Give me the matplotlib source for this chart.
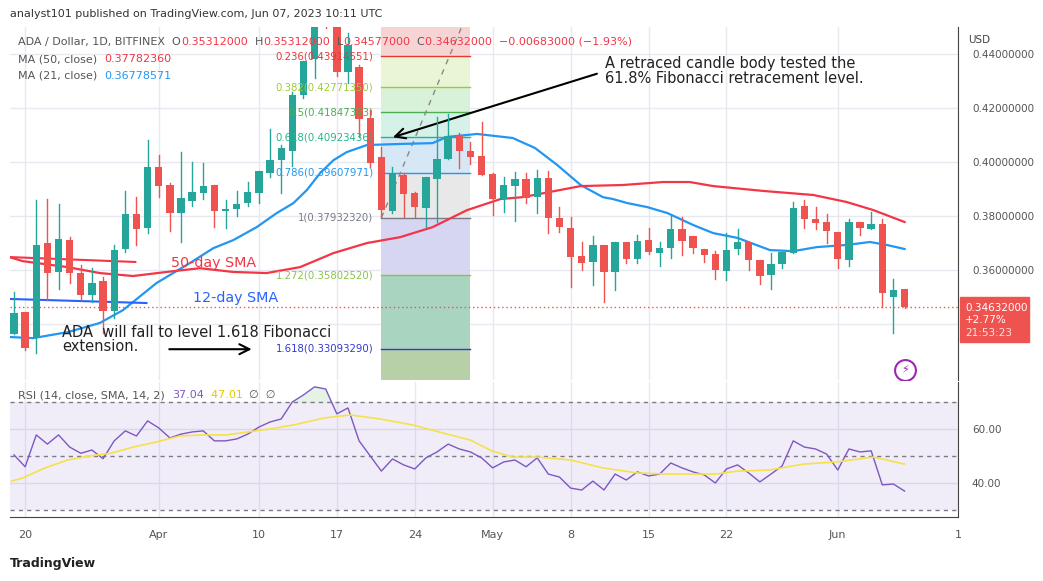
import numpy as np
import matplotlib
matplotlib.use("Agg")
import matplotlib.pyplot as plt
from matplotlib.patches import Rectangle

# daily candles, Mar 19 .. Jun 7 2023 (index 0 = Mar 19)
opens = [.3363, .3444, .3348, .3700, .3593, .3711, .3589, .3507, .3559, .3448,
         .3678, .3807, .3756, .3981, .3915, .3811, .3856, .3885, .3915, .3819,
         .3826, .3848, .3885, .3959, .4007, .4041, .4248, .4381, .4550, .4510,
         .4333, .4352, .4163, .4019, .3819, .3952, .3885, .3830, .3937, .4011,
         .4096, .4041, .4022, .3956, .3863, .3911, .3937, .3870, .3941, .3793,
         .3756, .3652, .3630, .3693, .3593, .3704, .3641, .3711, .3663, .3681,
         .3752, .3726, .3678, .3659, .3596, .3678, .3704, .3637, .3581, .3622,
         .3663, .3837, .3789, .3778, .3741, .3637, .3778, .3752, .3770, .3500,
         .3531]
highs = [.3519, .3444, .3859, .3863, .3844, .3722, .3619, .3607, .3574, .3693,
         .3893, .3870, .4081, .4026, .3922, .4037, .4000, .3996, .3915, .3859,
         .3893, .3926, .3967, .4122, .4063, .4259, .4374, .4550, .4600, .4540,
         .4478, .4360, .4193, .4056, .3981, .3959, .3889, .3944, .4167, .4178,
         .4107, .4074, .4148, .3960, .3944, .3963, .3959, .3970, .3967, .3833,
         .3796, .3704, .3726, .3693, .3704, .3704, .3730, .3756, .3704, .3804,
         .3796, .3726, .3678, .3670, .3737, .3752, .3704, .3637, .3663, .3667,
         .3852, .3859, .3833, .3807, .3741, .3789, .3778, .3815, .3789, .3567,
         .3531]
lows = [.3363, .3304, .3293, .3489, .3530, .3552, .3489, .3481, .3367, .3422,
        .3667, .3693, .3737, .3870, .3744, .3704, .3837, .3863, .3759, .3756,
        .3800, .3837, .3848, .3944, .3885, .3985, .4237, .4311, .4495, .4320,
        .4293, .4093, .3981, .3796, .3811, .3796, .3796, .3759, .3778, .4011,
        .3978, .3993, .3952, .3804, .3815, .3781, .3848, .3811, .3737, .3741,
        .3537, .3600, .3544, .3481, .3526, .3626, .3626, .3659, .3615, .3644,
        .3656, .3663, .3630, .3567, .3563, .3659, .3600, .3548, .3530, .3607,
        .3663, .3756, .3752, .3700, .3607, .3615, .3730, .3752, .3463, .3367,
        .3458]
closes = [.3441, .3311, .3693, .3589, .3715, .3589, .3507, .3552, .3448, .3674,
          .3807, .3752, .3981, .3911, .3811, .3867, .3889, .3911, .3819, .3826,
          .3844, .3889, .3967, .4007, .4052, .4248, .4374, .4500, .4500, .4333,
          .4433, .4159, .3996, .3822, .3959, .3881, .3833, .3944, .4011, .4096,
          .4041, .4019, .3952, .3863, .3915, .3937, .3867, .3941, .3793, .3759,
          .3648, .3626, .3693, .3593, .3704, .3641, .3707, .3667, .3681, .3752,
          .3707, .3681, .3656, .3600, .3674, .3704, .3637, .3578, .3622, .3667,
          .3830, .3789, .3774, .3744, .3641, .3778, .3756, .3770, .3515, .3526,
          .3463]

# moving averages (candle index, price)
ma21_idx = [-0.3, 1.7, 4.8, 7.7, 9.8, 12.8, 15.8, 17.9, 19.7, 21.8, 23.6, 25.1, 26.3,
            27.5, 28.7, 29.9, 31.7, 34.7, 37.6, 38.9, 41.6, 44.8, 46.8, 48.8, 50.9,
            52.9, 53.8, 55.1, 56.9, 58.7, 61.0, 62.8, 65.0, 67.9, 70.0, 72.1, 74.8,
            76.9, 78.4, 80]
ma21_val = [.3352, .3348, .3370, .3404, .3452, .3552, .3626, .3681, .3711, .3759, .3811,
            .3848, .3896, .3959, .4007, .4037, .4063, .4067, .4070, .4093, .4104, .4089,
            .4052, .3989, .3915, .3870, .3863, .3848, .3833, .3811, .3767, .3737, .3719,
            .3674, .3670, .3685, .3693, .3704, .3693, .3678]
ma50_idx = [-0.4, 0.8, 4.8, 7.7, 10.7, 13.7, 16.7, 19.7, 22.7, 25.7, 28.7, 31.7, 34.7,
            37.6, 40.7, 43.7, 45.7, 50.9, 54.7, 58.3, 60.7, 62.8, 67.3, 71.8, 74.8,
            77.2, 80]
ma50_val = [.3648, .3633, .3611, .3589, .3578, .3593, .3607, .3593, .3589, .3611, .3663,
            .3700, .3722, .3759, .3822, .3863, .3870, .3911, .3915, .3926, .3926, .3911,
            .3893, .3878, .3852, .3822, .3778]

rsi = [50.4, 46.0, 57.8, 54.4, 57.8, 53.3, 51.0, 52.2, 49.0, 55.6,
       59.3, 57.4, 63.0, 60.4, 56.7, 58.1, 58.9, 59.3, 55.6, 55.6,
       56.3, 58.1, 60.7, 62.6, 63.7, 70.0, 72.6, 75.6, 74.8, 65.6,
       67.8, 55.6, 50.0, 44.4, 48.9, 46.7, 45.2, 49.3, 51.5, 54.4,
       52.6, 51.5, 49.3, 45.6, 47.8, 48.5, 46.0, 49.3, 43.3, 42.2,
       38.1, 37.4, 40.7, 37.4, 43.3, 41.1, 44.1, 42.6, 43.3, 47.4,
       45.6, 44.1, 43.0, 40.0, 45.2, 46.7, 43.7, 40.4, 43.3, 46.3,
       55.6, 53.3, 52.6, 50.7, 44.8, 52.6, 51.5, 51.9, 39.3, 39.6,
       37.0]
rsi_ma_idx = [-0.2, 0.8, 2.8, 4.8, 6.8, 8.8, 10.7, 12.8, 14.9, 17, 19.1, 21, 23, 25.1,
              27.9, 30.2, 32.9, 35.8, 38.9, 41, 42.9, 44.8, 47, 50, 52.9, 56, 58.7,
              63, 65, 67.9, 70.9, 73.9, 77.2, 80]
rsi_ma_val = [40.7, 41.9, 45.6, 48.5, 50.0, 51.1, 53.3, 55.2, 57.4, 57.8, 57.8, 58.9,
              60.0, 61.5, 64.1, 65.2, 63.7, 61.5, 58.1, 55.9, 51.9, 49.6, 49.6, 48.5,
              45.6, 43.7, 43.3, 43.3, 44.4, 44.8, 47.0, 47.8, 49.6, 47.0]

fib_ratios = ["0.236", "0.382", "0.5", "0.618", "0.786", "1", "1.272", "1.618"]
fib_prices = [0.43914551, 0.42771350, 0.41847393, 0.40923436, 0.39607971,
              0.37932320, 0.35802520, 0.33093290]
fib_colors = ["#e53935", "#9ccc35", "#4caf50", "#22b68a", "#2196f3", "#787b86",
              "#8bc34a", "#2f3ad0"]
fib_fills = ["#f6d4d4", "#eaf5d6", "#d8f2d9", "#d6f2e8", "#d6e8f5", "#e8e8e8",
             "#d6d6f3", "#a8d4c0", "#b8d0a8"]
fib_top = 0.4577  # level 0
fib_start, fib_end = 33.0, 41.0

price_ticks = [0.34, 0.36, 0.38, 0.40, 0.42, 0.44]
tick_idx = [1, 13, 22, 29, 36, 43, 50, 57, 64, 74, 84.8]
tick_lab = ["20", "Apr", "10", "17", "24", "May", "8", "15", "22", "Jun", "1"]
last_price = 0.34632

W, H = 1043, 581
fig = plt.figure(figsize=(W / 100, H / 100), dpi=100)
GREEN, RED = "#26a69a", "#ef5350"
GRID = "#e6eaf0"
XMIN, XMAX = -0.36, 84.8
FS = 8


def px_axes(x0, y0, x1, y1):
    return fig.add_axes([x0 / W, 1 - y1 / H, (x1 - x0) / W, (y1 - y0) / H])


ax = px_axes(10, 27, 958, 380)
ax.set_xlim(XMIN, XMAX)
ax.set_ylim(0.3193, 0.45)

for t in tick_idx:
    ax.axvline(t, color=GRID, lw=1, zorder=0)
for p in price_ticks:
    ax.axhline(p, color=GRID, lw=1, zorder=0)

# fibonacci box
levels = [fib_top] + fib_prices + [0.30]
for i in range(len(levels) - 1):
    ax.add_patch(Rectangle((fib_start, levels[i + 1]), fib_end - fib_start,
                           levels[i] - levels[i + 1], color=fib_fills[i], lw=0, zorder=1))
for r, p, c in zip(fib_ratios, fib_prices, fib_colors):
    ax.plot([fib_start, fib_end], [p, p], color=c, lw=1, zorder=2)
    ax.text(fib_start - 0.7, p, f"{r}({p:.8f})", color=c, fontsize=7.3,
            ha="right", va="center", zorder=6)
ax.plot([fib_start, fib_end], [fib_prices[5], fib_top], color="#888", lw=1,
        ls=(0, (4, 4)), zorder=2)

# candles
for i, (o, h, l, c) in enumerate(zip(opens, highs, lows, closes)):
    col = GREEN if c >= o else RED
    ax.plot([i, i], [l, h], color=col, lw=1, zorder=4)
    ax.add_patch(Rectangle((i - 0.33, min(o, c)), 0.66, max(abs(c - o), 0.0004),
                           color=col, lw=0, zorder=4))

ax.plot(ma21_idx, ma21_val, color="#2196f3", lw=1.6, zorder=3)
ax.plot(ma50_idx, ma50_val, color="#f23645", lw=1.6, zorder=3)
ax.axhline(last_price, color=RED, lw=1, ls=(0, (1, 2)), zorder=3)

# hand-drawn annotations
ax.plot([-0.3, 10.9], [0.3648, 0.3630], color="#f23645", lw=1.5, zorder=3)
ax.plot([-0.3, 11.9], [0.3493, 0.3478], color="#2962ff", lw=1.5, zorder=3)
ax.text(14.1, 0.3626, "50-day SMA", color="#f23645", fontsize=10.3, va="center", zorder=6)
ax.text(16.1, 0.3496, "12-day SMA", color="#2962ff", fontsize=10.3, va="center", zorder=6)
ax.text(4.3, 0.3344, "ADA  will fall to level 1.618 Fibonacci\nextension.", color="#222",
        fontsize=10.5, va="center", linespacing=0.95, zorder=6)
ax.annotate("", xy=(21.6, 0.3307), xytext=(13.7, 0.3307),
            arrowprops=dict(arrowstyle="->", color="black", lw=1.5, mutation_scale=18))
ax.text(53.1, 0.4337, "A retraced candle body tested the\n61.8% Fibonacci retracement level.",
        color="#222", fontsize=10.5, va="center", linespacing=0.95, zorder=6)
ax.annotate("", xy=(33.8, 0.4089), xytext=(52.6, 0.4330),
            arrowprops=dict(arrowstyle="->", color="black", lw=1.5, mutation_scale=18))
ax.plot([80], [0.3230], marker="o", ms=15, mfc="white", mec="#9c27b0", mew=1.5, zorder=6)
ax.text(80, 0.3230, "\u26a1", color="#9c27b0", fontsize=8, ha="center", va="center", zorder=7)

ax.set_xticks([])
ax.yaxis.tick_right()
ax.set_yticks(price_ticks[1:])
ax.set_yticklabels([f"{v:.8f}" for v in price_ticks[1:]])
ax.tick_params(axis="y", length=0, labelsize=7.5, labelcolor="#555", pad=10)
for s in ["top", "left", "bottom"]:
    ax.spines[s].set_visible(False)
ax.spines["right"].set_color("#444")

# RSI panel
ax2 = px_axes(10, 382, 958, 517)
ax2.set_xlim(XMIN, XMAX)
ax2.set_ylim(27.4, 77.4)
for t in tick_idx:
    ax2.axvline(t, color=GRID, lw=1, zorder=0)
ax2.axhspan(30, 70, color="#7e57c2", alpha=0.1, lw=0)
for v in [60, 40]:
    ax2.axhline(v, color="#d8d8e6", lw=1)
for v in [70, 50, 30]:
    ax2.axhline(v, color="#787b86", lw=1, ls=(0, (3, 3)))
xi = np.arange(len(rsi))
ra = np.array(rsi)
ax2.fill_between(xi, 70, ra, where=ra > 70, interpolate=True, color="#4caf50", alpha=0.15, lw=0)
ax2.plot(xi, rsi, color="#7e57c2", lw=1)
ax2.plot(rsi_ma_idx, rsi_ma_val, color="#f5e14a", lw=1.2)
ax2.yaxis.tick_right()
ax2.set_yticks([40, 60])
ax2.set_yticklabels(["40.00", "60.00"])
ax2.tick_params(axis="y", length=0, labelsize=7.5, labelcolor="#555", pad=10)
ax2.set_xticks(tick_idx)
ax2.set_xticklabels(tick_lab)
ax2.tick_params(axis="x", length=0, labelsize=8, labelcolor="#555", pad=9)
for s in ["top", "left"]:
    ax2.spines[s].set_visible(False)
ax2.spines["right"].set_color("#444")
ax2.spines["bottom"].set_color("#444")


# header & legends (coloured segments laid out one after another)
def seg_line(x, y, parts, fs=FS):
    prev = fig.text(x / W, 1 - y / H, parts[0][0], color=parts[0][1], fontsize=fs, va="center")
    for s, c in parts[1:]:
        prev = fig.add_artist(matplotlib.text.Annotation(
            s, xy=(1, 0.5), xycoords=prev, color=c, fontsize=fs, va="center", ha="left",
            annotation_clip=False))


fig.text(10 / W, 1 - 14 / H, "analyst101 published on TradingView.com, Jun 07, 2023 10:11 UTC",
         fontsize=8, color="#333", va="center")
seg_line(18, 42, [("ADA / Dollar, 1D, BITFINEX  O", "#555"), ("0.35312000", "#f23645"),
                  ("  H", "#555"), ("0.35312000", "#f23645"), ("  L", "#555"),
                  ("0.34577000", "#f23645"), ("  C", "#555"),
                  ("0.34632000  \u22120.00683000 (\u22121.93%)", "#f23645")])
seg_line(18, 59, [("MA (50, close)  ", "#555"), ("0.37782360", "#f23645")])
seg_line(18, 76, [("MA (21, close)  ", "#555"), ("0.36778571", "#2196f3")])
seg_line(18, 395, [("RSI (14, close, SMA, 14, 2)  ", "#555"), ("37.04", "#7e57c2"),
                   ("  47.01", "#e5c800"), ("  \u2205  \u2205", "#555")])
fig.text(968 / W, 1 - 40 / H, "USD", fontsize=7.5, color="#444", va="center")

# last price tag
fig.patches.append(Rectangle((960 / W, 1 - 342 / H), 69 / W, 45 / H, color=RED,
                             transform=fig.transFigure, figure=fig))
fig.text(965 / W, 1 - 308 / H, "0.34632000", fontsize=7.5, color="white", va="center")
fig.text(965 / W, 1 - 320 / H, "+2.77%", fontsize=7.5, color="white", va="center")
fig.text(965 / W, 1 - 333 / H, "21:53:23", fontsize=7.5, color="#ffe0e0", va="center")

fig.text(10 / W, 1 - 563 / H, "TradingView", fontsize=9, color="#222", va="center",
         fontweight="bold")

fig.savefig("out.png", dpi=100)
